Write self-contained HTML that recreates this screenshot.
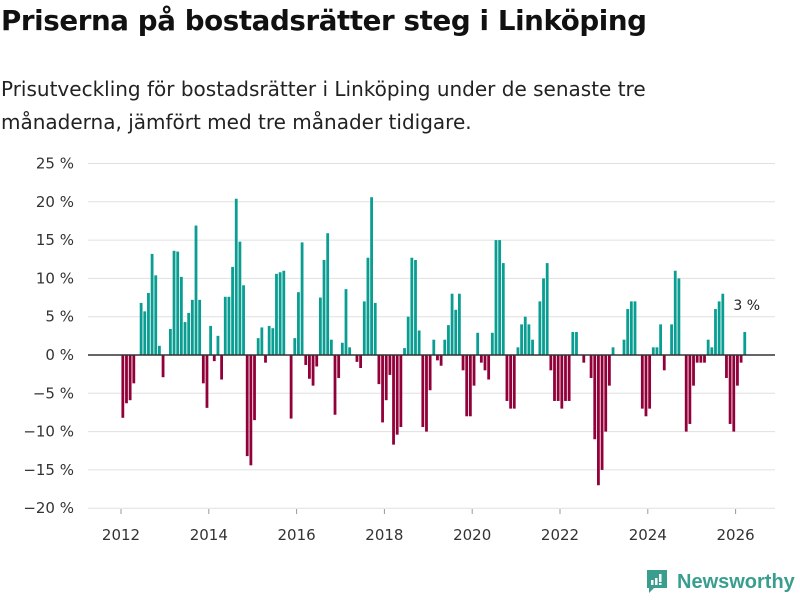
<!DOCTYPE html>
<html><head><meta charset="utf-8">
<style>
body{margin:0;background:#fff;font-family:"DejaVu Sans","Liberation Sans",sans-serif;}
#wrap{position:relative;width:800px;height:600px;overflow:hidden;}
h1{position:absolute;left:1px;top:4px;margin:0;font-size:27.7px;font-weight:bold;color:#111;letter-spacing:-0.4px;}
p{position:absolute;left:1px;top:73px;margin:0;font-size:20px;line-height:33px;color:#222;width:700px;}
</style></head><body>
<div id="wrap">
<h1>Priserna på bostadsrätter steg i Linköping</h1>
<p>Prisutveckling för bostadsrätter i Linköping under de senaste tre månaderna, jämfört med tre månader tidigare.</p>
<svg id="chart" width="800" height="600" style="position:absolute;left:0;top:0"></svg>
</div>
<script>
const startYear = 2012;
const values = [
-8.2,-6.3,-5.9,-3.7,0,6.8,5.7,8.1,13.2,10.4,1.2,-2.9,
0,3.4,13.6,13.5,10.2,4.3,5.5,7.2,16.9,7.2,-3.7,-6.9,
3.8,-0.8,2.5,-3.2,7.6,7.6,11.5,20.4,14.8,9.1,-13.2,-14.4,
-8.5,2.2,3.6,-1,3.8,3.5,10.6,10.8,11,0,-8.3,2.2,
8.2,14.7,-1.3,-3.1,-4,-1.5,7.5,12.4,15.9,2,-7.8,-3,
1.6,8.6,1,0,-0.9,-1.7,7,12.7,20.6,6.8,-3.8,-8.8,
-5.9,-2.6,-11.7,-10.4,-9.4,0.9,5,12.7,12.4,3.2,-9.4,-10,
-4.6,2,-0.7,-1.4,2,3.9,8,5.9,8,-2,-8,-8,
-4,2.9,-1,-2,-3.2,2.9,15,15,12,-6,-7,-7,
1,4,5,4,2,0,7,10,12,-2,-6,-6,
-7,-6,-6,3,3,0,-1,0,-3,-11,-17,-15,
-10,-4,1,0,0,2,6,7,7,0,-7,-8,
-7,1,1,4,-2,0,4,11,10,0,-10,-9,
-4,-1,-1,-1,2,1,6,7,8,-3,-9,-10,
-4,-1,3];
const yTicks = [25,20,15,10,5,0,-5,-10,-15,-20];
const xTicks = [2012,2014,2016,2018,2020,2022,2024,2026];
const lastLabel = "3 %";

const NS="http://www.w3.org/2000/svg";
const svg=document.getElementById('chart');
function x(t){return 121+(t-2012)*43.9;}
function y(v){return 355-v*7.66;}
function mk(tag,attrs){const e=document.createElementNS(NS,tag);for(const k in attrs)e.setAttribute(k,attrs[k]);svg.appendChild(e);return e;}

yTicks.forEach(v=>{
  const g=mk('line',{x1:88,x2:775,y1:y(v),y2:y(v),stroke:'#e0e0e0','stroke-width':1});
  
  
  const t=mk('text',{x:74,y:y(v)+5,'text-anchor':'end','font-size':15,fill:'#333','font-family':'DejaVu Sans, Liberation Sans, sans-serif'});
  t.textContent=(v<0?'\u2212'+(-v):v)+' %';
  
  
});
xTicks.forEach(yr=>{
  const l=mk('line',{x1:x(yr),x2:x(yr),y1:509,y2:514,stroke:'#999','stroke-width':1});
  
  
  const t=mk('text',{x:x(yr),y:540,'text-anchor':'middle','font-size':15,fill:'#333','font-family':'DejaVu Sans, Liberation Sans, sans-serif'});
  t.textContent=yr;
  
  
});
values.forEach((v,i)=>{
  const t=startYear+(i+0.5)/12;
  const cx=x(t);
  const y0=y(0),y1=y(v);
  const r=mk('rect',{x:cx-1.4,width:2.8,y:Math.min(y0,y1),height:Math.abs(y1-y0),fill:v>=0?'#0a9e92':'#92003a'});
  
  
});
const z=mk('line',{x1:88,x2:775,y1:y(0),y2:y(0),stroke:'#333','stroke-width':1.5});


const li=values.length-1;
const lab=mk('text',{x:x(startYear+(li+0.5)/12)+2,y:y(values[li])-22,'text-anchor':'middle','font-size':14,fill:'#222','font-family':'DejaVu Sans, Liberation Sans, sans-serif'});
lab.textContent=lastLabel;


</script>
<div style="position:absolute;left:645px;top:569px;height:26px;display:flex;align-items:center;">
<svg width="24" height="26" viewBox="0 0 24 26"><path d="M2 1h20v18H9l-5 5v-5H2z" fill="#3a9e8f"/><rect x="6" y="11" width="2.5" height="5" fill="#fff"/><rect x="10" y="9" width="2.5" height="7" fill="#fff"/><rect x="14" y="5" width="2.5" height="8" fill="#fff"/><rect x="14" y="14" width="2.5" height="2" fill="#fff"/></svg>
<span style="margin-left:8px;font-size:20px;color:#3a9e8f;font-family:'Liberation Sans',sans-serif;font-weight:bold;">Newsworthy</span>
</div>
</body></html>
